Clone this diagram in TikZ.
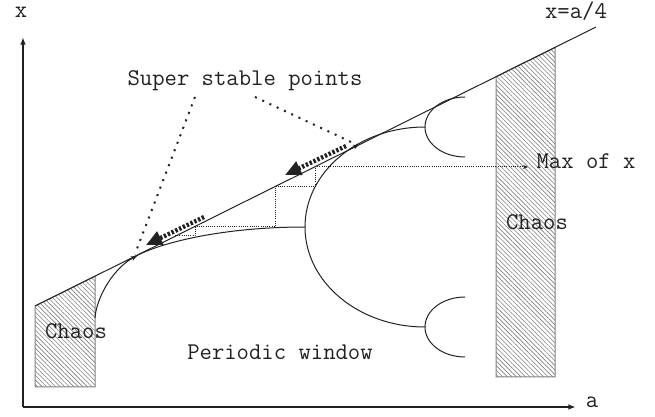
\documentclass[tikz,border=0pt]{standalone}
\usetikzlibrary{arrows.meta,patterns.meta}
\definecolor{Ink}{HTML}{222222}
\definecolor{Hatch}{HTML}{808080}

\begin{document}
\begin{tikzpicture}[x=0.5pt,y=-0.5pt,font=\ttfamily\fontsize{12}{14}\selectfont,
    axis/.style={Ink,line width=1pt,-{Latex[length=3.8pt,width=2.8pt]}},
    branch/.style={Ink,line width=0.5pt},
    chaosbox/.style={draw=Hatch,line width=0.5pt,pattern={Lines[angle=-45,distance=1.6pt,line width=0.3pt]},pattern color=Hatch},
    cobweb/.style={Ink,line width=0.5pt,dash pattern=on 0.5pt off 0.6pt},
    leader/.style={Ink,line width=1pt,dash pattern=on 1pt off 3pt},
    flow/.style={Ink,line width=2.2pt,dash pattern=on 1.2pt off 0.9pt,-{Triangle[length=8pt,width=7pt]}},
    sspoint/.style={Ink,line width=0.5pt,-{Stealth[length=3pt,width=2.4pt]}},
    lbl/.style={inner sep=0pt,text=Ink}]
  \useasboundingbox (0,0) rectangle (655,417);
  % axes
  \coordinate (O) at (23,407);
  \coordinate (xtip) at (23,37);
  \coordinate (atip) at (576,407);
  \draw[axis] (O) -- (xtip);
  \draw[axis] (O) -- (atip);
  \node[lbl] (xlabel) at (21,12) {x};
  \node[lbl] (alabel) at (592,402) {a};
  % chaos regions
  \draw[chaosbox] (35,306) -- (95,276.2) -- (95,387) -- (35,387) -- cycle;
  \draw[chaosbox] (496,76.7) -- (555,47.4) -- (555,377) -- (496,377) -- cycle;
  \node[lbl] (chaosL) at (76,331) {Chaos};
  \node[lbl] (chaosR) at (537,222) {Chaos};
  % x = a/4
  \coordinate (L0) at (35,306);
  \coordinate (L1) at (596,27);
  \draw[branch] (L0) -- (L1);
  \node[lbl] (linelabel) at (576,11) {x=a/4};
  % branches
  \draw[branch] (95,318) .. controls (96,300) and (112,266) .. (140,254)
    .. controls (170,240) and (230,227) .. (305,227);
  \draw[branch] (305,227) .. controls (305,171.8) and (358.7,127) .. (425,127);
  \draw[branch] (305,227) .. controls (305,282.2) and (358.7,327) .. (425,327);
  \foreach \y in {127,327}{
    \draw[branch] (425,\y) .. controls (425,\y-16.6) and (442.9,\y-30) .. (465,\y-30);
    \draw[branch] (425,\y) .. controls (425,\y+16.6) and (442.9,\y+30) .. (465,\y+30);
  }
  % iteration
  \coordinate (xmax) at (528,167);
  \draw[cobweb] (175,236) -- (195,236) -- (195,227) -- (275,227) -- (275,187)
    -- (315,187) -- (315,167);
  \draw[cobweb,-{Stealth[length=2.5pt,width=2pt]}] (315,167) -- (xmax);
  \node[lbl] (maxlabel) at (586,161) {Max of x};
  % super stable points
  \coordinate (ss1) at (137,256);
  \coordinate (ss2) at (359,144.5);
  \draw[sspoint] (127,261) -- (ss1);
  \draw[sspoint] (349,149.5) -- (ss2);
  \node[lbl] (sslabel) at (245,81) {Super stable points};
  \coordinate (lead1) at (195,97);
  \coordinate (lead2) at (255,97);
  \draw[leader] (lead1) -- (135,254);
  \draw[leader] (lead2) -- (351,142);
  \coordinate (f1s) at (346,146);
  \coordinate (f1e) at (285,175);
  \coordinate (f2s) at (204,217);
  \coordinate (f2e) at (146,245);
  \draw[flow] (f1s) -- (f1e);
  \draw[flow] (f2s) -- (f2e);
  \node[lbl] (window) at (280,352) {Periodic window};
\end{tikzpicture}
\end{document}
